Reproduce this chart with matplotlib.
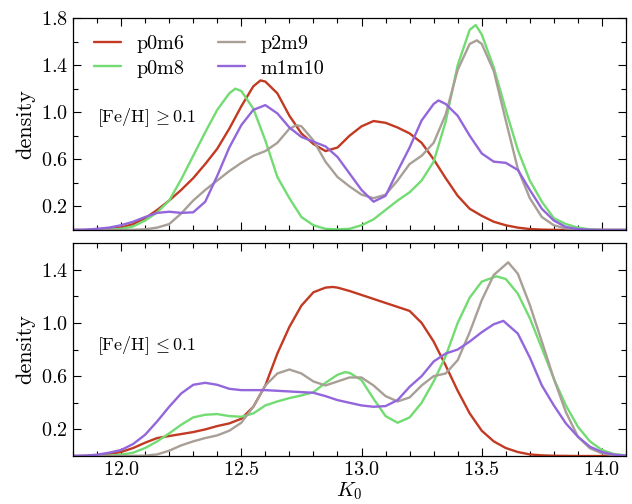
import numpy as np
import matplotlib
matplotlib.use("Agg")
import matplotlib.pyplot as plt
from matplotlib.ticker import MultipleLocator, FixedLocator

plt.rcParams['font.family'] = 'serif'
plt.rcParams['font.serif'] = ['cmr10', 'DejaVu Serif']
plt.rcParams['mathtext.fontset'] = 'cm'
plt.rcParams['axes.formatter.use_mathtext'] = True
plt.rcParams['axes.unicode_minus'] = False

labels = ['p0m6', 'p0m8', 'p2m9', 'm1m10']
colors = ['#C23A22', '#72DC72', '#A89F96', '#9366DB']

# ---- top panel: [Fe/H] >= 0.1 ----
k_p0m6_hi = [11.80, 11.85, 11.90, 11.95, 12.00, 12.05, 12.10, 12.15, 12.20, 12.25, 12.30, 12.35, 12.40, 12.45, 12.50, 12.55, 12.58, 12.60, 12.65, 12.70, 12.75, 12.80, 12.85, 12.90, 12.95, 13.00, 13.05, 13.10, 13.15, 13.20, 13.25, 13.30, 13.35, 13.40, 13.45, 13.50, 13.55, 13.60, 13.65, 13.70, 13.75, 13.80, 13.85, 13.90, 14.00, 14.10]
d_p0m6_hi = [0, 0, 0.002, 0.008, 0.02, 0.05, 0.10, 0.17, 0.25, 0.34, 0.44, 0.56, 0.69, 0.86, 1.05, 1.22, 1.27, 1.26, 1.16, 0.97, 0.82, 0.73, 0.67, 0.70, 0.80, 0.88, 0.925, 0.91, 0.87, 0.82, 0.74, 0.60, 0.44, 0.29, 0.18, 0.12, 0.07, 0.04, 0.02, 0.008, 0.003, 0.001, 0, 0, 0, 0]

k_p0m8_hi = [11.80, 11.90, 11.95, 12.00, 12.05, 12.10, 12.15, 12.20, 12.25, 12.30, 12.35, 12.40, 12.45, 12.475, 12.50, 12.55, 12.60, 12.65, 12.70, 12.75, 12.80, 12.85, 12.90, 12.95, 13.00, 13.05, 13.10, 13.15, 13.20, 13.25, 13.30, 13.35, 13.40, 13.45, 13.475, 13.50, 13.55, 13.60, 13.65, 13.70, 13.75, 13.80, 13.85, 13.90, 13.95, 14.00, 14.10]
d_p0m8_hi = [0, 0, 0.002, 0.01, 0.03, 0.08, 0.15, 0.25, 0.43, 0.63, 0.83, 1.02, 1.16, 1.20, 1.18, 1.03, 0.76, 0.45, 0.27, 0.11, 0.04, 0.01, 0.005, 0.01, 0.04, 0.09, 0.17, 0.25, 0.32, 0.42, 0.58, 0.92, 1.40, 1.70, 1.74, 1.66, 1.38, 1.02, 0.68, 0.42, 0.24, 0.10, 0.05, 0.02, 0.005, 0, 0]

k_p2m9_hi = [11.80, 11.90, 12.00, 12.05, 12.10, 12.15, 12.20, 12.25, 12.30, 12.35, 12.40, 12.45, 12.50, 12.55, 12.60, 12.65, 12.70, 12.73, 12.75, 12.80, 12.85, 12.90, 12.95, 13.00, 13.05, 13.10, 13.15, 13.20, 13.25, 13.30, 13.35, 13.40, 13.45, 13.48, 13.50, 13.55, 13.60, 13.65, 13.70, 13.75, 13.80, 13.85, 13.90, 13.95, 14.00, 14.10]
d_p2m9_hi = [0, 0, 0, 0.002, 0.006, 0.02, 0.05, 0.14, 0.25, 0.34, 0.42, 0.50, 0.57, 0.63, 0.67, 0.74, 0.86, 0.89, 0.88, 0.76, 0.58, 0.45, 0.37, 0.30, 0.27, 0.30, 0.42, 0.56, 0.63, 0.74, 0.98, 1.36, 1.58, 1.61, 1.58, 1.35, 0.93, 0.52, 0.27, 0.11, 0.04, 0.012, 0.003, 0, 0, 0]

k_m1m10_hi = [11.80, 11.85, 11.90, 11.95, 12.00, 12.05, 12.10, 12.15, 12.20, 12.25, 12.30, 12.35, 12.40, 12.45, 12.50, 12.55, 12.60, 12.65, 12.70, 12.75, 12.80, 12.85, 12.90, 12.95, 13.00, 13.05, 13.10, 13.15, 13.20, 13.25, 13.30, 13.32, 13.35, 13.40, 13.45, 13.50, 13.55, 13.60, 13.65, 13.70, 13.75, 13.80, 13.85, 13.90, 13.95, 14.00, 14.10]
d_m1m10_hi = [0, 0.002, 0.01, 0.02, 0.04, 0.07, 0.11, 0.145, 0.155, 0.145, 0.15, 0.24, 0.46, 0.70, 0.89, 1.02, 1.06, 0.99, 0.87, 0.79, 0.75, 0.71, 0.62, 0.48, 0.34, 0.24, 0.29, 0.50, 0.70, 0.93, 1.07, 1.10, 1.07, 0.97, 0.80, 0.65, 0.58, 0.57, 0.51, 0.34, 0.18, 0.08, 0.025, 0.008, 0.002, 0, 0]

# ---- bottom panel: [Fe/H] <= 0.1 ----
k_p0m6_lo = [11.80, 11.85, 11.90, 11.95, 12.00, 12.05, 12.10, 12.15, 12.20, 12.25, 12.30, 12.35, 12.40, 12.45, 12.50, 12.55, 12.60, 12.65, 12.70, 12.75, 12.80, 12.85, 12.88, 12.90, 12.95, 13.00, 13.05, 13.10, 13.15, 13.20, 13.25, 13.30, 13.35, 13.40, 13.45, 13.50, 13.55, 13.60, 13.65, 13.70, 13.75, 13.80, 13.90, 14.00, 14.10]
d_p0m6_lo = [0, 0.001, 0.005, 0.015, 0.03, 0.06, 0.10, 0.135, 0.15, 0.165, 0.18, 0.20, 0.225, 0.245, 0.28, 0.37, 0.53, 0.77, 0.97, 1.13, 1.23, 1.265, 1.27, 1.265, 1.24, 1.21, 1.18, 1.15, 1.12, 1.09, 1.00, 0.86, 0.68, 0.49, 0.32, 0.19, 0.11, 0.06, 0.03, 0.012, 0.005, 0.002, 0, 0, 0]

k_p0m8_lo = [11.80, 11.90, 11.95, 12.00, 12.05, 12.10, 12.15, 12.20, 12.25, 12.30, 12.35, 12.40, 12.45, 12.50, 12.55, 12.60, 12.65, 12.70, 12.75, 12.80, 12.85, 12.90, 12.93, 12.95, 13.00, 13.05, 13.10, 13.15, 13.20, 13.25, 13.30, 13.35, 13.40, 13.45, 13.50, 13.56, 13.60, 13.65, 13.70, 13.75, 13.80, 13.85, 13.90, 13.95, 14.00, 14.05, 14.10]
d_p0m8_lo = [0, 0, 0.003, 0.01, 0.025, 0.06, 0.11, 0.17, 0.235, 0.29, 0.31, 0.315, 0.30, 0.295, 0.32, 0.38, 0.41, 0.435, 0.455, 0.48, 0.55, 0.61, 0.63, 0.625, 0.57, 0.43, 0.30, 0.25, 0.29, 0.40, 0.56, 0.75, 1.00, 1.19, 1.31, 1.35, 1.33, 1.22, 1.035, 0.81, 0.58, 0.38, 0.22, 0.11, 0.045, 0.015, 0.005]

k_p2m9_lo = [11.80, 12.00, 12.10, 12.15, 12.20, 12.25, 12.30, 12.35, 12.40, 12.45, 12.50, 12.55, 12.60, 12.65, 12.70, 12.75, 12.80, 12.85, 12.90, 12.95, 13.00, 13.05, 13.10, 13.15, 13.20, 13.25, 13.30, 13.35, 13.40, 13.45, 13.50, 13.55, 13.61, 13.65, 13.70, 13.75, 13.80, 13.85, 13.90, 13.95, 14.00, 14.05, 14.10]
d_p2m9_lo = [0, 0, 0.003, 0.012, 0.04, 0.08, 0.11, 0.135, 0.155, 0.19, 0.25, 0.37, 0.53, 0.62, 0.65, 0.62, 0.56, 0.53, 0.56, 0.59, 0.59, 0.53, 0.45, 0.41, 0.44, 0.53, 0.60, 0.62, 0.72, 0.93, 1.17, 1.36, 1.455, 1.37, 1.135, 0.86, 0.58, 0.33, 0.145, 0.058, 0.02, 0.006, 0]

k_m1m10_lo = [11.80, 11.85, 11.90, 11.95, 12.00, 12.05, 12.10, 12.15, 12.20, 12.25, 12.30, 12.35, 12.40, 12.45, 12.50, 12.55, 12.60, 12.65, 12.70, 12.75, 12.80, 12.85, 12.90, 12.95, 13.00, 13.05, 13.10, 13.15, 13.20, 13.25, 13.30, 13.35, 13.40, 13.45, 13.50, 13.55, 13.59, 13.65, 13.70, 13.75, 13.80, 13.85, 13.90, 13.95, 14.00, 14.05, 14.10]
d_m1m10_lo = [0, 0.003, 0.01, 0.025, 0.045, 0.09, 0.16, 0.26, 0.37, 0.47, 0.535, 0.55, 0.535, 0.505, 0.495, 0.495, 0.495, 0.49, 0.485, 0.48, 0.475, 0.45, 0.42, 0.40, 0.38, 0.37, 0.375, 0.42, 0.52, 0.60, 0.71, 0.77, 0.80, 0.86, 0.93, 0.99, 1.015, 0.92, 0.74, 0.53, 0.38, 0.245, 0.145, 0.07, 0.03, 0.01, 0.003]

top_series = [(k_p0m6_hi, d_p0m6_hi), (k_p0m8_hi, d_p0m8_hi), (k_p2m9_hi, d_p2m9_hi), (k_m1m10_hi, d_m1m10_hi)]
bot_series = [(k_p0m6_lo, d_p0m6_lo), (k_p0m8_lo, d_p0m8_lo), (k_p2m9_lo, d_p2m9_lo), (k_m1m10_lo, d_m1m10_lo)]

fig = plt.figure(figsize=(6.32, 5.04), dpi=100)
ax1 = fig.add_axes([0.1155, 0.5437, 0.875, 0.4206])
ax2 = fig.add_axes([0.1155, 0.0952, 0.875, 0.4226])

for ax, series in ((ax1, top_series), (ax2, bot_series)):
    for (k, d), lab, c in zip(series, labels, colors):
        ax.plot(k, d, color=c, lw=1.7, label=lab, solid_joinstyle='round', solid_capstyle='round')
    ax.set_xlim(11.8, 14.1)
    ax.xaxis.set_major_locator(MultipleLocator(0.5))
    ax.xaxis.set_minor_locator(MultipleLocator(0.1))
    ax.tick_params(which='both', direction='in', top=True, right=True, labelsize=14.5)
    ax.tick_params(which='major', length=6, width=0.8)
    ax.tick_params(which='minor', length=3.5, width=0.8)
    ax.set_ylabel('density', fontsize=16)
    for s in ax.spines.values():
        s.set_linewidth(0.9)

ax1.set_ylim(0, 1.8)
ax1.yaxis.set_major_locator(FixedLocator([0.2, 0.6, 1.0, 1.4, 1.8]))
ax1.yaxis.set_minor_locator(FixedLocator([0.4, 0.8, 1.2, 1.6]))
ax1.tick_params(axis='x', labelbottom=False)

ax2.set_ylim(0, 1.6)
ax2.yaxis.set_major_locator(FixedLocator([0.2, 0.6, 1.0, 1.4]))
ax2.yaxis.set_minor_locator(FixedLocator([0.4, 0.8, 1.2]))
ax2.set_xlabel('$K_0$', fontsize=15, labelpad=1)

ax1.yaxis.set_label_coords(-0.068, 0.5)
ax2.yaxis.set_label_coords(-0.068, 0.5)

ax1.text(0.043, 0.53, r'[Fe/H]$\,\geq 0.1$', transform=ax1.transAxes, fontsize=13, va='center')
ax2.text(0.043, 0.516, r'[Fe/H]$\,\leq 0.1$', transform=ax2.transAxes, fontsize=13, va='center')

ax1.legend(loc='upper left', bbox_to_anchor=(0.012, 0.985), ncol=2, frameon=False, fontsize=14.5,
           handlelength=1.35, handletextpad=0.75, columnspacing=1.7, labelspacing=0.3,
           borderaxespad=0.3)

fig.savefig('out.png', dpi=100)
